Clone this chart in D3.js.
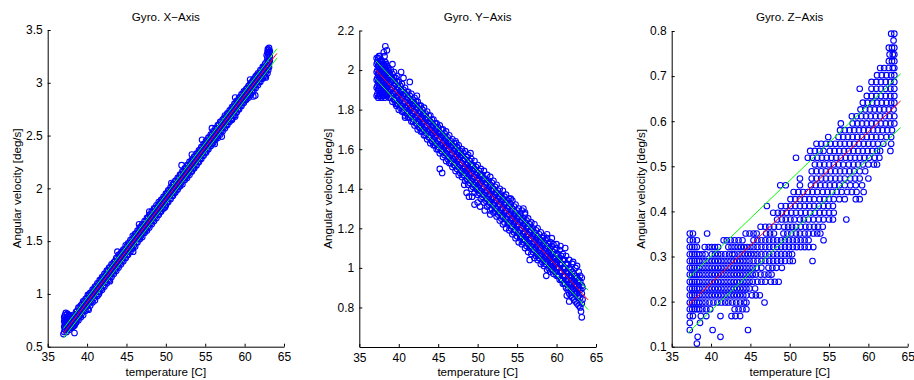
<!DOCTYPE html>
<html>
<head>
<meta charset="utf-8">
<script src="https://cdn.jsdelivr.net/npm/d3@7"></script>
<style>
  body { margin: 0; background: #fff; }
  svg text { font-family: "Liberation Sans", Arial, Helvetica, sans-serif; fill: #000; }
</style>
</head>
<body>
<svg id="chart" width="914" height="380"></svg>
<script>
// ---- Axis ticks ----------------------------------------------------------
const tempTicks = [35, 40, 45, 50, 55, 60, 65];
const gxTicks = [0.5, 1, 1.5, 2, 2.5, 3, 3.5];
const gyTicks = [0.8, 1, 1.2, 1.4, 1.6, 1.8, 2, 2.2];
const gzTicks = [0.1, 0.2, 0.3, 0.4, 0.5, 0.6, 0.7, 0.8];

// ---- Gyro X: readings [temperature, deg/s] ------------------------------
const gxStart = [
  [37.0,0.62],[37.1,0.64],[37.1,0.69],[37.1,0.74],[37.1,0.78],[37.2,0.66],[37.2,0.72],[37.2,0.80],
  [37.3,0.68],[37.3,0.75],[37.3,0.82],[37.4,0.64],[37.4,0.71],[37.4,0.78],[37.5,0.67],[37.5,0.74],
  [37.5,0.81],[37.6,0.70],[37.6,0.77],[37.7,0.66],[37.7,0.73],[37.7,0.80],[37.8,0.69],[37.8,0.76],
  [37.9,0.72],[37.9,0.79],[38.0,0.68],[38.0,0.75],[38.1,0.71],[38.1,0.78],[38.2,0.73],[38.2,0.80],
  [38.3,0.70],[38.3,0.76],[38.4,0.63],[38.4,0.74],[38.5,0.72],[38.5,0.79],
  [37.2,0.69],[37.2,0.76],[37.4,0.68],[37.4,0.74],[37.6,0.67],[37.6,0.73],[37.8,0.72],[37.8,0.79],
  [38.0,0.71],[38.0,0.78],[38.2,0.69],[38.2,0.76],[38.4,0.70],[38.4,0.78]
];
// readings grouped by temperature: [temperature, [deg/s ...]]
const gxBand = [
  [38.6,[0.73,0.79,0.83]],[38.9,[0.75,0.81,0.87]],[39.2,[0.78,0.85,0.89]],[39.5,[0.80,0.87,0.93]],
  [39.8,[0.84,0.91,0.95]],[40.1,[0.86,0.92,0.99]],[40.4,[0.89,0.96,1.01]],[40.7,[0.92,0.99,1.04]],
  [41.0,[0.94,1.02,1.07]],[41.3,[0.98,1.05,1.10]],[41.6,[1.02,1.08,1.13]],[41.9,[1.04,1.11,1.16]],
  [42.2,[1.07,1.13,1.19]],[42.5,[1.10,1.17,1.22]],[42.8,[1.13,1.19,1.25]],[43.1,[1.16,1.23,1.28]],
  [43.4,[1.19,1.25,1.30]],[43.7,[1.22,1.29,1.34]],[44.0,[1.25,1.31,1.37]],[44.3,[1.28,1.34,1.39]],
  [44.6,[1.31,1.37,1.42]],[44.9,[1.34,1.40,1.46]],[45.2,[1.37,1.43,1.48]],[45.5,[1.40,1.46,1.51]],
  [45.8,[1.43,1.49,1.55]],[46.1,[1.45,1.52,1.57]],[46.4,[1.49,1.55,1.60]],[46.7,[1.52,1.58,1.63]],
  [47.0,[1.54,1.60,1.66]],[47.3,[1.58,1.64,1.69]],[47.6,[1.60,1.66,1.72]],[47.9,[1.63,1.70,1.75]],
  [48.2,[1.66,1.72,1.78]],[48.5,[1.69,1.75,1.81]],[48.8,[1.72,1.78,1.84]],[49.1,[1.75,1.81,1.87]],
  [49.4,[1.78,1.84,1.89]],[49.7,[1.81,1.87,1.92]],[50.0,[1.84,1.90,1.95]],[50.3,[1.87,1.93,1.98]],
  [50.6,[1.90,1.96,2.01]],[50.9,[1.93,1.99,2.04]],[51.2,[1.96,2.01,2.07]],[51.5,[1.99,2.05,2.10]],
  [51.8,[2.02,2.07,2.13]],[52.1,[2.04,2.11,2.16]],[52.4,[2.08,2.13,2.19]],[52.7,[2.10,2.16,2.22]],
  [53.0,[2.13,2.19,2.25]],[53.3,[2.16,2.22,2.27]],[53.6,[2.19,2.25,2.30]],[53.9,[2.22,2.28,2.33]],
  [54.2,[2.25,2.31,2.36]],[54.5,[2.28,2.34,2.39]],[54.8,[2.31,2.37,2.42]],[55.1,[2.34,2.40,2.45]],
  [55.4,[2.37,2.42,2.48]],[55.7,[2.40,2.46,2.51]],[56.0,[2.43,2.48,2.54]],[56.3,[2.46,2.51,2.57]],
  [56.6,[2.48,2.54,2.60]],[56.9,[2.51,2.57,2.63]],[57.2,[2.54,2.60,2.65]],[57.5,[2.57,2.63,2.69]],
  [57.8,[2.60,2.66,2.71]],[58.1,[2.63,2.69,2.74]],[58.4,[2.66,2.72,2.77]],[58.7,[2.69,2.75,2.80]],
  [59.0,[2.72,2.78,2.83]],[59.3,[2.75,2.80,2.86]],[59.6,[2.78,2.83,2.89]],[59.9,[2.81,2.86,2.92]],
  [60.2,[2.84,2.89,2.94]],[60.5,[2.86,2.92,2.97]],[60.8,[2.89,2.95,3.00]],[61.1,[2.92,2.98,3.03]],
  [61.4,[2.95,3.01,3.06]],[61.7,[2.98,3.04,3.09]],[62.0,[3.01,3.07,3.12]],[62.3,[3.04,3.10,3.15]],
  [62.6,[3.06,3.12,3.18]],
  [38.75,[0.76,0.78,0.81,0.84]],[39.05,[0.79,0.81,0.84,0.87]],[39.35,[0.82,0.84,0.87,0.90]],
  [39.65,[0.85,0.87,0.90,0.93]],[39.95,[0.88,0.90,0.93,0.96]],[40.25,[0.91,0.93,0.96,0.99]],
  [40.55,[0.93,0.96,0.99,1.01]],[40.85,[0.96,0.99,1.02,1.04]],[41.15,[0.99,1.02,1.05,1.07]],
  [41.45,[1.02,1.05,1.08,1.10]],[41.75,[1.05,1.08,1.11,1.13]],[42.05,[1.08,1.11,1.14,1.16]],
  [42.35,[1.11,1.14,1.17,1.19]],[42.65,[1.14,1.16,1.19,1.22]],[42.95,[1.17,1.19,1.22,1.25]],
  [43.25,[1.20,1.22,1.25,1.28]],[43.55,[1.23,1.25,1.28,1.31]],[43.85,[1.26,1.28,1.31,1.34]],
  [44.15,[1.29,1.31,1.34,1.37]],[44.45,[1.32,1.34,1.37,1.40]],[44.75,[1.34,1.37,1.40,1.42]],
  [45.05,[1.37,1.40,1.43,1.45]],[45.35,[1.40,1.43,1.46,1.48]],[45.65,[1.43,1.46,1.49,1.51]],
  [45.95,[1.46,1.49,1.52,1.54]],[46.25,[1.49,1.52,1.55,1.57]],[46.55,[1.52,1.55,1.58,1.60]],
  [46.85,[1.55,1.57,1.60,1.63]],[47.15,[1.58,1.60,1.63,1.66]],[47.45,[1.61,1.63,1.66,1.69]],
  [47.75,[1.64,1.66,1.69,1.72]],[48.05,[1.67,1.69,1.72,1.75]],[48.35,[1.70,1.72,1.75,1.78]],
  [48.65,[1.73,1.75,1.78,1.81]],[48.95,[1.75,1.78,1.81,1.83]],[49.25,[1.78,1.81,1.84,1.86]],
  [49.55,[1.81,1.84,1.87,1.89]],[49.85,[1.84,1.87,1.90,1.92]],[50.15,[1.87,1.90,1.93,1.95]],
  [50.45,[1.90,1.93,1.96,1.98]],[50.75,[1.93,1.96,1.99,2.01]],[51.05,[1.96,1.98,2.01,2.04]],
  [51.35,[1.99,2.01,2.04,2.07]],[51.65,[2.02,2.04,2.07,2.10]],[51.95,[2.05,2.07,2.10,2.13]],
  [52.25,[2.08,2.10,2.13,2.16]],[52.55,[2.11,2.13,2.16,2.19]],[52.85,[2.14,2.16,2.19,2.22]],
  [53.15,[2.16,2.19,2.22,2.24]],[53.45,[2.19,2.22,2.25,2.27]],[53.75,[2.22,2.25,2.28,2.30]],
  [54.05,[2.25,2.28,2.31,2.33]],[54.35,[2.28,2.31,2.34,2.36]],[54.65,[2.31,2.34,2.37,2.39]],
  [54.95,[2.34,2.37,2.40,2.42]],[55.25,[2.37,2.40,2.43,2.45]],[55.55,[2.40,2.42,2.45,2.48]],
  [55.85,[2.43,2.45,2.48,2.51]],[56.15,[2.46,2.48,2.51,2.54]],[56.45,[2.49,2.51,2.54,2.57]],
  [56.75,[2.52,2.54,2.57,2.60]],[57.05,[2.55,2.57,2.60,2.63]],[57.35,[2.58,2.60,2.63,2.66]],
  [57.65,[2.60,2.63,2.66,2.68]],[57.95,[2.63,2.66,2.69,2.71]],[58.25,[2.66,2.69,2.72,2.74]],
  [58.55,[2.69,2.72,2.75,2.77]],[58.85,[2.72,2.75,2.78,2.80]],[59.15,[2.75,2.78,2.81,2.83]],
  [59.45,[2.78,2.81,2.84,2.86]],[59.75,[2.81,2.83,2.86,2.89]],[60.05,[2.84,2.86,2.89,2.92]],
  [60.35,[2.87,2.89,2.92,2.95]],[60.65,[2.90,2.92,2.95,2.98]],[60.95,[2.93,2.95,2.98,3.01]],
  [61.25,[2.96,2.98,3.01,3.04]],[61.55,[2.99,3.01,3.04,3.07]],[61.85,[3.01,3.04,3.07,3.09]],
  [62.15,[3.04,3.07,3.10,3.12]],[62.45,[3.07,3.10,3.13,3.15]]
];
const gxEnd = [
  [62.7,3.05],[62.7,3.10],[62.8,3.14],[62.8,3.20],[62.8,3.26],[62.9,3.17],[62.9,3.24],[62.9,3.29],
  [62.95,3.32],[63.0,3.12],[63.0,3.20],[63.0,3.27],[63.0,3.31],[63.1,3.15],[63.1,3.22],[63.1,3.29],
  [63.1,3.33],[63.2,3.25],[63.2,3.30],[62.7,3.15],[62.9,3.09],[63.0,3.16],[63.1,3.19],[63.2,3.21]
];
const gxStray = [
  [40.2,0.85],[41.5,1.00],[42.9,1.12],[43.85,1.40],[45.85,1.40],[46.6,1.66],[47.9,1.78],[49.9,1.82],
  [50.7,2.05],[52.0,2.22],[53.3,2.32],[54.6,2.46],[55.85,2.57],[56.2,2.42],[57.1,2.49],[58.4,2.65],
  [58.8,2.68],[58.8,2.86],[60.7,3.03],[61.1,2.87],[61.35,2.88]
];

// ---- Gyro Y ---------------------------------------------------------------
const gyStart = [
  [37.2,[1.87,1.91,1.95,1.99,2.03,2.06]],[37.3,[1.88,1.92,1.96,2.00,2.04]],
  [37.4,[1.86,1.90,1.94,1.98,2.02,2.06]],[37.5,[1.87,1.91,1.95,1.99,2.03,2.07]],
  [37.6,[1.88,1.92,1.96,2.00,2.04,2.07]],[37.7,[1.87,1.91,1.95,1.99,2.03]],
  [37.8,[1.86,1.90,1.94,1.98,2.02,2.05]],[37.9,[1.88,1.92,1.96,2.00,2.04]],
  [38.0,[1.87,1.91,1.95,1.99,2.03]],[38.1,[1.87,1.91,1.95,1.99,2.03]],
  [38.2,[1.86,1.90,1.94,1.98,2.02,2.07]],[38.3,[1.88,1.92,1.96,2.00,2.04]],
  [38.4,[1.87,1.91,1.95,1.99,2.03]],[38.5,[1.87,1.91,1.95,1.99,2.02]],
  [38.6,[1.88,1.92,1.96,2.00]],[38.7,[1.89,1.93,1.97,2.01]]
];
const gyBand = [
  [38.8,[1.86,1.89,1.93,1.96,1.99]],[39.2,[1.84,1.88,1.91,1.95,1.98]],[39.6,[1.83,1.86,1.89,1.93,1.96]],
  [40.0,[1.80,1.84,1.87,1.91,1.94]],[40.4,[1.79,1.82,1.86,1.89,1.93]],[40.8,[1.77,1.81,1.84,1.88,1.91]],
  [41.2,[1.76,1.79,1.82,1.86,1.89]],[41.6,[1.74,1.77,1.81,1.84,1.88]],[42.0,[1.72,1.76,1.79,1.83,1.86]],
  [42.4,[1.70,1.74,1.77,1.81,1.84]],[42.8,[1.69,1.72,1.76,1.79,1.82]],[43.2,[1.67,1.70,1.74,1.77,1.81]],
  [43.6,[1.65,1.69,1.72,1.75,1.79]],[44.0,[1.63,1.67,1.70,1.74,1.77]],[44.4,[1.62,1.65,1.68,1.72,1.75]],
  [44.8,[1.60,1.63,1.67,1.70,1.73]],[45.2,[1.58,1.62,1.65,1.68,1.72]],[45.6,[1.56,1.60,1.63,1.67,1.70]],
  [46.0,[1.54,1.58,1.62,1.65,1.69]],[46.4,[1.53,1.56,1.60,1.63,1.67]],[46.8,[1.51,1.55,1.58,1.62,1.65]],
  [47.2,[1.49,1.53,1.56,1.60,1.64]],[47.6,[1.47,1.51,1.55,1.58,1.62]],[48.0,[1.46,1.49,1.53,1.57,1.60]],
  [48.4,[1.44,1.48,1.51,1.55,1.59]],[48.8,[1.42,1.46,1.50,1.53,1.57]],[49.2,[1.40,1.44,1.48,1.52,1.55]],
  [49.6,[1.38,1.42,1.46,1.50,1.54]],[50.0,[1.37,1.41,1.44,1.48,1.52]],[50.4,[1.35,1.39,1.43,1.47,1.50]],
  [50.8,[1.33,1.37,1.41,1.45,1.49]],[51.2,[1.31,1.35,1.39,1.43,1.47]],[51.6,[1.29,1.33,1.37,1.42,1.46]],
  [52.0,[1.28,1.32,1.36,1.40,1.44]],[52.4,[1.26,1.30,1.34,1.38,1.42]],[52.8,[1.24,1.28,1.32,1.36,1.40]],
  [53.2,[1.22,1.26,1.30,1.35,1.39]],[53.6,[1.20,1.25,1.29,1.33,1.37]],[54.0,[1.19,1.23,1.27,1.31,1.35]],
  [54.4,[1.17,1.21,1.25,1.30,1.34]],[54.8,[1.15,1.19,1.24,1.28,1.32]],[55.2,[1.13,1.18,1.22,1.26,1.30]],
  [55.6,[1.12,1.16,1.20,1.24,1.29]],[56.0,[1.10,1.14,1.18,1.23,1.27]],[56.4,[1.08,1.12,1.17,1.21,1.25]],
  [56.8,[1.07,1.11,1.15,1.19,1.23]],[57.2,[1.05,1.09,1.13,1.18,1.22]],[57.6,[1.04,1.08,1.12,1.16,1.20]],
  [58.0,[1.02,1.06,1.10,1.14,1.18]],[58.4,[1.01,1.05,1.09,1.13,1.16]],[58.8,[0.99,1.03,1.07,1.11,1.15]],
  [59.2,[0.98,1.02,1.06,1.10,1.13]],[59.6,[0.97,1.01,1.05,1.08,1.12]],[60.0,[0.96,1.00,1.03,1.07,1.10]],
  [60.4,[0.94,0.98,1.02,1.05,1.09]],[60.8,[0.92,0.96,1.00,1.04,1.07]],[61.2,[0.90,0.94,0.98,1.02,1.06]],
  [61.6,[0.87,0.92,0.96,1.00,1.04]],[62.0,[0.85,0.89,0.94,0.98,1.02]],[62.4,[0.83,0.87,0.92,0.96,1.00]],
  [62.8,[0.81,0.86,0.90,0.94,0.98]],
  [39.0,[1.86,1.90,1.94,1.97]],[39.4,[1.85,1.88,1.92,1.96]],[39.8,[1.83,1.87,1.90,1.94]],
  [40.2,[1.81,1.85,1.88,1.92]],[40.6,[1.79,1.83,1.87,1.90]],[41.0,[1.78,1.81,1.85,1.89]],
  [41.4,[1.76,1.80,1.83,1.87]],[41.8,[1.74,1.78,1.82,1.85]],[42.2,[1.73,1.76,1.80,1.84]],
  [42.6,[1.71,1.74,1.78,1.82]],[43.0,[1.69,1.73,1.76,1.80]],[43.4,[1.67,1.71,1.75,1.78]],
  [43.8,[1.66,1.69,1.73,1.77]],[44.2,[1.64,1.68,1.71,1.75]],[44.6,[1.62,1.66,1.69,1.73]],
  [45.0,[1.60,1.64,1.68,1.71]],[45.4,[1.59,1.62,1.66,1.70]],[45.8,[1.57,1.61,1.64,1.68]],
  [46.2,[1.55,1.59,1.63,1.66]],[46.6,[1.53,1.57,1.61,1.64]],[47.0,[1.52,1.55,1.59,1.63]],
  [47.4,[1.50,1.54,1.57,1.61]],[47.8,[1.48,1.52,1.56,1.59]],[48.2,[1.47,1.50,1.54,1.58]],
  [48.6,[1.45,1.49,1.52,1.56]],[49.0,[1.43,1.47,1.50,1.54]],[49.4,[1.41,1.45,1.49,1.52]],
  [49.8,[1.40,1.43,1.47,1.51]],[50.2,[1.38,1.42,1.45,1.49]],[50.6,[1.36,1.40,1.44,1.47]],
  [51.0,[1.34,1.38,1.42,1.45]],[51.4,[1.32,1.36,1.40,1.44]],[51.8,[1.30,1.35,1.39,1.43]],
  [52.2,[1.29,1.33,1.37,1.41]],[52.6,[1.27,1.31,1.35,1.39]],[53.0,[1.25,1.29,1.33,1.37]],
  [53.4,[1.23,1.28,1.32,1.36]],[53.8,[1.22,1.26,1.30,1.34]],[54.2,[1.20,1.24,1.28,1.32]],
  [54.6,[1.18,1.22,1.26,1.31]],[55.0,[1.16,1.21,1.25,1.29]],[55.4,[1.15,1.19,1.23,1.27]],
  [55.8,[1.13,1.17,1.21,1.25]],[56.2,[1.11,1.16,1.20,1.24]],[56.6,[1.10,1.14,1.18,1.22]],
  [57.0,[1.08,1.12,1.16,1.20]],[57.4,[1.06,1.10,1.14,1.19]],[57.8,[1.05,1.09,1.13,1.17]],
  [58.2,[1.03,1.07,1.11,1.15]],[58.6,[1.02,1.06,1.10,1.14]],[59.0,[1.00,1.04,1.08,1.12]],
  [59.4,[0.99,1.03,1.07,1.11]],[59.8,[0.98,1.02,1.05,1.09]],[60.2,[0.96,1.00,1.04,1.07]],
  [60.6,[0.94,0.98,1.02,1.06]],[61.0,[0.92,0.96,1.00,1.04]],[61.4,[0.89,0.93,0.97,1.02]],
  [61.8,[0.86,0.90,0.95,0.99]],[62.2,[0.84,0.88,0.93,0.97]],[62.6,[0.82,0.87,0.91,0.95]],
  [39.1,[1.87,1.91,1.95]],[39.5,[1.85,1.89,1.93]],[39.9,[1.83,1.87,1.91]],[40.3,[1.82,1.86,1.90]],
  [40.7,[1.80,1.84,1.88]],[41.1,[1.78,1.82,1.86]],[41.5,[1.77,1.81,1.85]],[41.9,[1.75,1.79,1.83]],
  [42.3,[1.73,1.77,1.81]],[42.7,[1.71,1.75,1.79]],[43.1,[1.70,1.74,1.78]],[43.5,[1.68,1.72,1.76]],
  [43.9,[1.66,1.70,1.74]],[44.3,[1.64,1.68,1.72]],[44.7,[1.63,1.67,1.71]],[45.1,[1.61,1.65,1.69]],
  [45.5,[1.59,1.63,1.67]],[45.9,[1.58,1.62,1.66]],[46.3,[1.56,1.60,1.64]],[46.7,[1.54,1.58,1.62]],
  [47.1,[1.52,1.56,1.60]],[47.5,[1.51,1.55,1.59]],[47.9,[1.49,1.53,1.57]],[48.3,[1.47,1.51,1.55]],
  [48.7,[1.45,1.49,1.53]],[49.1,[1.44,1.48,1.52]],[49.5,[1.42,1.46,1.50]],[49.9,[1.40,1.44,1.48]],
  [50.3,[1.39,1.43,1.47]],[50.7,[1.37,1.41,1.45]],[51.1,[1.35,1.39,1.43]],[51.5,[1.33,1.37,1.41]],
  [51.9,[1.32,1.36,1.40]],[52.3,[1.30,1.34,1.38]],[52.7,[1.28,1.32,1.36]],[53.1,[1.26,1.30,1.34]],
  [53.5,[1.25,1.29,1.33]],[53.9,[1.23,1.27,1.31]],[54.3,[1.21,1.25,1.29]],[54.7,[1.19,1.23,1.27]],
  [55.1,[1.18,1.22,1.26]],[55.5,[1.16,1.20,1.24]],[55.9,[1.14,1.18,1.22]],[56.3,[1.13,1.17,1.21]],
  [56.7,[1.11,1.15,1.19]],[57.1,[1.09,1.13,1.17]],[57.5,[1.07,1.11,1.15]],[57.9,[1.06,1.10,1.14]],
  [58.3,[1.04,1.08,1.12]],[58.7,[1.02,1.06,1.10]],[59.1,[1.01,1.05,1.09]],[59.5,[0.99,1.03,1.07]],
  [59.9,[0.98,1.02,1.06]],[60.3,[0.96,1.00,1.04]],[60.7,[0.94,0.98,1.02]],[61.1,[0.92,0.96,1.00]],
  [61.5,[0.90,0.94,0.98]],[61.9,[0.88,0.92,0.96]],[62.3,[0.87,0.91,0.95]],[62.7,[0.85,0.89,0.93]]
];
const gyEnd = [
  [63.0,0.80],[63.0,0.85],[63.0,0.89],[63.0,0.93],[63.0,0.96],[63.1,0.78],[63.2,0.82],[63.2,0.87],
  [63.2,0.91],[63.2,0.95],[63.3,0.84],[63.3,0.90],[63.2,0.75]
];
const gyStray = [
  [38.3,2.12],[38.1,2.09],[38.5,2.10],[39.0,2.00],[39.2,2.03],[39.4,1.99],[39.8,1.97],[40.3,1.99],
  [40.6,1.96],[41.4,1.94],[42.3,1.87],[40.8,1.76],[39.7,1.82],[45.2,1.50],[45.5,1.48],[47.3,1.63],
  [49.1,1.58],[48.7,1.56],[48.3,1.42],[48.6,1.38],[48.9,1.36],[49.3,1.36],[49.6,1.32],[50.0,1.33],
  [50.3,1.31],[50.9,1.29],[51.6,1.27],[54.2,1.35],[56.0,1.28],[55.8,1.30],[56.6,1.04],[58.7,0.96],
  [61.3,0.86],[61.6,0.83],[58.8,1.17],[59.4,1.15],[60.0,1.12],[60.5,1.11],[61.1,1.10],[62.1,1.03],
  [62.6,1.01]
];

// ---- Gyro Z: readings sit on discrete levels (deg/s), temperatures per level
const gzLevels = [
  0.107, 0.122, 0.137, 0.153, 0.168, 0.183, 0.198, 0.214, 0.229, 0.244, 0.260, 0.275,
  0.290, 0.305, 0.321, 0.336, 0.351, 0.366, 0.382, 0.397, 0.412, 0.427, 0.443, 0.458,
  0.473, 0.489, 0.504, 0.519, 0.534, 0.550, 0.565, 0.580, 0.595, 0.611, 0.626, 0.641,
  0.656, 0.672, 0.687, 0.702, 0.718, 0.733, 0.748, 0.763, 0.779, 0.794
];
const gzTemps = [
  [38.2],
  [38.3, 41.2],
  [37.3, 40.2, 44.7],
  [37.3, 38.6],
  [37.3, 37.7, 38.7, 39.4, 41.2, 42.6, 43.1, 43.7],
  [37.3, 37.6, 37.9, 38.2, 38.5, 38.9, 39.4, 39.9, 43.0, 43.5, 44.0, 44.5],
  [37.3, 37.6, 37.9, 38.2, 38.5, 38.9, 39.3, 39.8, 40.3, 40.8, 41.3, 41.8, 42.2, 42.7, 43.2, 43.7, 44.2, 44.5, 46.8],
  [37.3, 37.6, 37.9, 38.2, 38.5, 38.9, 39.3, 39.7, 40.1, 40.5, 40.9, 41.3, 41.7, 42.1, 42.5, 42.9, 43.3, 43.7, 44.1, 44.5, 45.2, 45.7, 46.2],
  [37.3, 37.6, 37.9, 38.2, 38.5, 38.9, 39.3, 39.7, 40.1, 40.5, 40.9, 41.3, 41.7, 42.1, 42.5, 42.9, 43.3, 43.7, 44.1, 44.5, 44.9, 45.6],
  [37.3, 37.6, 37.9, 38.2, 38.5, 38.9, 39.3, 39.7, 40.1, 40.5, 40.9, 41.3, 41.7, 42.1, 42.5, 42.9, 43.3, 43.7, 44.1, 44.5, 44.9, 45.3, 45.9, 46.4, 46.9, 47.6, 48.1, 48.6],
  [37.3, 37.6, 37.9, 38.2, 38.5, 38.9, 39.3, 39.7, 40.1, 40.5, 40.9, 41.3, 41.7, 42.1, 42.5, 42.9, 43.3, 43.7, 44.1, 44.5, 44.9, 45.3, 45.7, 46.3, 46.8, 47.3, 47.7],
  [37.3, 37.6, 37.9, 38.2, 38.5, 38.9, 39.3, 39.7, 40.1, 40.5, 40.9, 41.3, 41.7, 42.1, 42.5, 42.9, 43.3, 43.7, 44.1, 44.5, 44.9, 45.3, 45.8, 46.4, 47.3, 47.8, 48.3, 49.0],
  [37.3, 37.6, 37.9, 38.2, 38.5, 38.9, 39.3, 39.7, 40.1, 40.5, 40.9, 41.3, 41.7, 42.1, 42.5, 42.9, 43.3, 43.7, 44.1, 44.5, 44.9, 45.4, 45.9, 46.4, 46.9, 47.4, 47.9, 48.4, 48.9, 49.4, 50.0, 50.4, 52.9],
  [37.3, 37.6, 37.9, 38.2, 38.5, 38.9, 39.3, 40.1, 40.5, 40.9, 41.3, 41.8, 42.3, 42.7, 43.0, 43.5, 43.9, 44.3, 44.7, 45.1, 45.5, 45.9, 46.4, 46.9, 47.4, 47.9, 48.4, 48.9, 49.4, 49.9, 50.3],
  [37.3, 37.6, 37.9, 38.2, 39.2, 39.7, 40.1, 40.5, 40.9, 42.2, 42.6, 43.0, 43.4, 43.8, 44.2, 44.6, 45.0, 45.4, 45.9, 46.4, 46.9, 47.4, 47.9, 48.4, 48.9, 49.4, 49.9, 50.4, 50.9, 51.4, 51.9, 52.4, 53.0],
  [37.3, 37.7, 38.2, 41.6, 42.0, 42.5, 43.0, 43.5, 44.0, 45.4, 45.9, 46.4, 46.9, 47.4, 47.9, 48.4, 48.9, 49.4, 49.9, 50.4, 50.9, 51.4, 51.9, 52.4, 54.3],
  [37.3, 37.7, 39.5, 44.4, 44.9, 45.4, 45.8, 47.0, 47.5, 48.0, 49.2, 49.7, 50.2, 50.8, 51.3, 51.9, 52.4, 53.0, 53.5, 53.9],
  [46.3, 46.9, 47.4, 48.0, 48.6, 49.3, 49.8, 50.3, 50.8, 51.4, 52.0, 52.5, 53.1, 53.6, 54.2],
  [48.4, 49.0, 49.5, 50.1, 50.6, 51.3, 51.8, 52.4, 53.0, 53.7, 54.3, 55.0, 55.5, 57.2],
  [47.9, 48.5, 49.0, 49.6, 50.2, 50.8, 51.4, 52.0, 52.6, 53.2, 53.8, 54.4, 55.0, 55.6],
  [47.1, 48.9, 49.5, 50.1, 50.7, 51.3, 51.9, 52.5, 53.1, 53.7, 54.3, 54.9, 55.5],
  [50.1, 50.7, 51.3, 51.9, 52.5, 53.1, 53.8, 54.4, 55.0, 55.6, 56.3, 57.0, 58.4, 58.9],
  [50.5, 51.1, 51.7, 52.3, 52.9, 53.5, 54.2, 54.8, 55.4, 56.0, 56.6, 57.3, 57.9, 58.5, 59.4],
  [48.8, 49.5, 51.3, 52.7, 53.3, 53.9, 54.5, 55.1, 55.7, 56.3, 57.0, 57.7, 58.4, 59.2],
  [51.3, 52.8, 53.4, 54.0, 54.6, 55.2, 55.8, 56.4, 57.0, 57.7, 58.3, 58.9, 60.0],
  [52.8, 53.4, 54.0, 54.6, 55.2, 55.8, 56.4, 57.0, 57.6, 58.2, 58.9, 59.6],
  [53.2, 53.8, 54.4, 55.0, 55.6, 56.2, 56.8, 57.5, 58.1, 58.7, 59.3, 60.0, 60.7, 61.1],
  [50.8, 52.3, 52.9, 53.5, 54.1, 54.7, 55.3, 55.9, 56.5, 57.1, 57.7, 58.3, 58.9, 59.5, 60.1, 60.8, 61.4],
  [52.6, 53.2, 53.8, 54.3, 55.1, 55.7, 56.3, 56.9, 57.5, 58.1, 58.7, 59.3, 59.9, 60.5, 61.1, 61.5, 62.8],
  [53.4, 54.0, 54.6, 55.2, 55.8, 56.4, 57.0, 57.6, 58.2, 58.8, 59.4, 60.0, 60.6, 61.2, 61.9, 62.9],
  [54.9, 56.2, 56.8, 57.4, 58.0, 58.6, 59.2, 59.8, 60.4, 61.0, 61.6, 62.3, 62.9],
  [56.4, 57.0, 57.6, 58.2, 58.8, 59.4, 60.0, 60.6, 61.2, 61.8, 62.4, 63.0],
  [56.5, 58.0, 58.6, 59.2, 59.8, 60.4, 61.0, 61.6, 62.2, 62.8, 63.3],
  [57.9, 58.5, 59.1, 59.7, 60.3, 60.9, 61.5, 62.1, 62.7, 63.3],
  [59.0, 59.6, 60.2, 60.8, 61.4, 62.0, 62.6, 63.2],
  [59.3, 59.9, 60.5, 61.1, 61.7, 62.3, 62.9, 63.3],
  [59.8, 60.4, 61.0, 61.6, 62.2, 62.8, 63.3],
  [58.9, 60.4, 61.0, 61.6, 62.2, 62.8, 63.3],
  [60.4, 61.0, 61.6, 62.2, 62.8, 63.3],
  [61.1, 61.7, 62.3, 62.9, 63.3],
  [61.5, 62.0, 62.6, 63.1, 63.3],
  [62.6, 63.0, 63.3],
  [62.7, 63.1, 63.3],
  [62.6, 63.0, 63.3],
  [63.2],
  [62.9, 63.3]
];

// ---- Linear fits and bounds (end points) --------------------------------
const fitTempX = [37.0, 64.1], fitX = [0.627, 3.278], upperX = [0.672, 3.323], lowerX = [0.582, 3.233];
const fitTempY = [37.1, 64.0], fitY = [2.000, 0.838], upperY = [2.047, 0.887], lowerY = [1.954, 0.789];
const fitTempZ = [37.1, 64.1], fitZ = [0.192, 0.645], upperZ = [0.252, 0.705], lowerZ = [0.131, 0.586];

// ---- Assemble ------------------------------------------------------------
const expand = band => band.flatMap(([t, vs]) => vs.map(v => [t, v]));
const gxPoints = [...gxStart, ...expand(gxBand), ...gxEnd, ...gxStray];
const gyPoints = [...expand(gyStart), ...expand(gyBand), ...gyEnd, ...gyStray];
const gzPoints = gzLevels.flatMap((v, i) => gzTemps[i].map(t => [t, v]));

const panels = [
  { title: "Gyro. X\u2212Axis", left: 47.7, right: 284, top: 30, bottom: 346.7, yDomain: [0.5, 3.5],
    ticks: gxTicks, points: gxPoints, fitT: fitTempX, fit: fitX, up: upperX, lo: lowerX, ylabX: 20.5 },
  { title: "Gyro. Y\u2212Axis", left: 359.3, right: 596, top: 30.5, bottom: 347, yDomain: [0.6, 2.2],
    ticks: gyTicks, points: gyPoints, fitT: fitTempY, fit: fitY, up: upperY, lo: lowerY, ylabX: 331.5 },
  { title: "Gyro. Z\u2212Axis", left: 671.7, right: 907.7, top: 31, bottom: 346.7, yDomain: [0.1, 0.8],
    ticks: gzTicks, points: gzPoints, fitT: fitTempZ, fit: fitZ, up: upperZ, lo: lowerZ, ylabX: 644.5 }
];

const svg = d3.select("#chart");
const fmt = d3.format("~g");

panels.forEach(p => {
  const x = d3.scaleLinear().domain([35, 65]).range([p.left, p.right]);
  const y = d3.scaleLinear().domain(p.yDomain).range([p.bottom, p.top]);
  const g = svg.append("g");

  // measurements
  g.append("g")
    .selectAll("circle")
    .data(p.points)
    .join("circle")
    .attr("cx", d => x(d[0]))
    .attr("cy", d => y(d[1]))
    .attr("r", 2.8)
    .attr("fill", "none")
    .attr("stroke", "#0000ff")
    .attr("stroke-width", 1.1);

  // fit and bounds
  const line = d3.line().x(d => x(d[0])).y(d => y(d[1]));
  const seg = vals => p.fitT.map((t, i) => [t, vals[i]]);
  g.append("path").datum(seg(p.fit)).attr("d", line)
    .attr("fill", "none").attr("stroke", "#ff0000").attr("stroke-width", 1);
  [p.up, p.lo].forEach(b => {
    g.append("path").datum(seg(b)).attr("d", line)
      .attr("fill", "none").attr("stroke", "#00ff00").attr("stroke-width", 1);
  });

  // axes (ticks point inward)
  const xAxis = g.append("g")
    .attr("transform", `translate(0,${p.bottom})`)
    .call(d3.axisBottom(x).tickValues(tempTicks).tickSize(-3).tickSizeOuter(0)
      .tickPadding(6).tickFormat(fmt));
  const yAxis = g.append("g")
    .attr("transform", `translate(${p.left},0)`)
    .call(d3.axisLeft(y).tickValues(p.ticks).tickSize(-3).tickSizeOuter(0)
      .tickPadding(5).tickFormat(fmt));
  [xAxis, yAxis].forEach(a => {
    a.attr("font-size", 12).attr("font-family", null);
    a.selectAll("path, line").attr("stroke", "#000");
    a.selectAll("text").attr("fill", "#000");
  });

  // labels
  g.append("text")
    .attr("x", (p.left + p.right) / 2).attr("y", 21)
    .attr("text-anchor", "middle").attr("font-size", 11.6)
    .text(p.title);
  g.append("text")
    .attr("x", (p.left + p.right) / 2).attr("y", 375.5)
    .attr("text-anchor", "middle").attr("font-size", 11.6)
    .text("temperature [C]");
  g.append("text")
    .attr("transform", `translate(${p.ylabX},${(p.top + p.bottom) / 2}) rotate(-90)`)
    .attr("text-anchor", "middle").attr("font-size", 11.6)
    .text("Angular velocity [deg/s]");
});
</script>
</body>
</html>
